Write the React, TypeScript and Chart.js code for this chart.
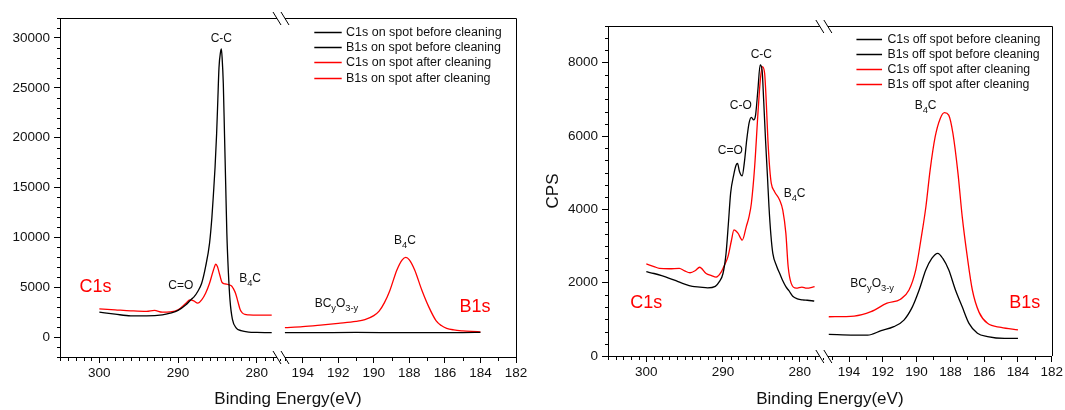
import React, { useEffect, useRef } from "react";
import { Chart, registerables } from "chart.js";

Chart.register(...registerables);

const FONT = "'Liberation Sans', Arial, Helvetica, sans-serif";
const BLACK = "#000000";
const RED = "#ff0000";

// ---------------- axis ticks ----------------
const C1S_TICKS = [300, 290, 280];
const B1S_TICKS = [194, 192, 190, 188, 186, 184, 182];
const ON_Y_TICKS = [0, 5000, 10000, 15000, 20000, 25000, 30000];
const OFF_Y_TICKS = [0, 2000, 4000, 6000, 8000];

// ---------------- left panel: on spot ----------------
const ON_LABELS = [
  "C1s on spot before cleaning",
  "B1s on spot before cleaning",
  "C1s on spot after cleaning",
  "B1s on spot after cleaning",
];
const ON_C1S_BEFORE_EV = [300, 298, 296, 294, 292, 291, 290, 289, 288.3, 288, 287.5, 287, 286.5, 286, 285.7, 285.5, 285.3, 285.1, 284.95, 284.8, 284.6, 284.5, 284.4, 284.25, 284.1, 283.95, 283.8, 283.6, 283.4, 283.1, 282.6, 282, 281, 280, 279, 278.1];
const ON_C1S_BEFORE_CPS = [2500, 2300, 2130, 2130, 2230, 2400, 2670, 3230, 3800, 4000, 4570, 5400, 7070, 9400, 12000, 14400, 17000, 20400, 23700, 27000, 28600, 28900, 28000, 25400, 20400, 15400, 10400, 6400, 3700, 1800, 900, 650, 500, 470, 450, 440];
const ON_B1S_BEFORE_EV = [195, 193, 191, 189, 187, 185, 184];
const ON_B1S_BEFORE_CPS = [440, 450, 460, 450, 440, 450, 470];
const ON_C1S_AFTER_EV = [300, 298, 296, 294, 293, 292, 291, 290, 289, 288.5, 288, 287.5, 287, 286.5, 286, 285.5, 285.2, 285, 284.7, 284.4, 284, 283.5, 283.2, 283, 282.7, 282.4, 282.1, 281.8, 281.5, 281, 280, 279, 278.1];
const ON_C1S_AFTER_CPS = [2830, 2730, 2630, 2570, 2670, 2500, 2530, 2730, 3400, 3730, 3630, 3400, 3730, 4400, 5400, 6730, 7300, 7070, 6230, 5470, 5330, 5230, 5130, 4900, 4400, 3570, 2730, 2400, 2270, 2230, 2200, 2200, 2200];
const ON_B1S_AFTER_EV = [195, 194, 193, 192, 191, 190.5, 190, 189.7, 189.4, 189.1, 188.7, 188.4, 188.2, 188.0, 187.7, 187.3, 186.9, 186.5, 186.2, 185.9, 185.5, 185, 184.5, 184];
const ON_B1S_AFTER_CPS = [940, 1040, 1200, 1380, 1580, 1750, 2150, 2600, 3450, 4650, 6730, 7750, 8000, 7750, 6730, 4720, 3000, 1650, 1150, 880, 720, 620, 560, 520];

// ---------------- right panel: off spot ----------------
const OFF_LABELS = [
  "C1s off spot before cleaning",
  "B1s off spot before cleaning",
  "C1s off spot after cleaning",
  "B1s off spot after cleaning",
];
const OFF_C1S_BEFORE_EV = [300, 299, 298, 297, 296, 295, 294, 293, 292, 291, 290.5, 290, 289.6, 289.3, 289, 288.6, 288.3, 288.1, 287.85, 287.5, 287.2, 286.9, 286.6, 286.3, 286.0, 285.75, 285.45, 285.15, 284.9, 284.7, 284.45, 284.2, 284.0, 283.75, 283.5, 283, 282.6, 282.2, 281.8, 281.4, 280.9, 280.3, 279.6, 279, 278.1];
const OFF_C1S_BEFORE_CPS = [2300, 2250, 2190, 2120, 2040, 1960, 1900, 1880, 1860, 1900, 2020, 2250, 2800, 3600, 4450, 4940, 5200, 5250, 5030, 4910, 5300, 5900, 6350, 6510, 6440, 6570, 7250, 7940, 7800, 7000, 5890, 4900, 4070, 3300, 2800, 2450, 2250, 2050, 1890, 1780, 1630, 1560, 1530, 1520, 1500];
const OFF_B1S_BEFORE_EV = [195.2, 193.7, 192.9, 192.1, 191.35, 190.75, 190.25, 189.85, 189.45, 189.1, 188.75, 188.45, 188.1, 187.7, 187.3, 186.9, 186.4, 185.8, 184.8, 184];
const OFF_B1S_BEFORE_CPS = [590, 570, 570, 690, 800, 980, 1340, 1800, 2350, 2660, 2800, 2660, 2350, 1800, 1340, 890, 620, 530, 480, 480];
const OFF_C1S_AFTER_EV = [300, 299, 298.3, 297, 295.7, 295, 294.3, 293.6, 293.05, 292.2, 291.5, 290.9, 290.2, 289.8, 289.35, 288.9, 288.57, 288.05, 287.48, 286.96, 286.6, 286.3, 285.87, 285.44, 285.13, 284.87, 284.57, 284.35, 284.14, 283.9, 283.7, 283.27, 282.6, 282.2, 281.8, 281.5, 281.1, 280.44, 279.7, 279.1, 278.05];
const OFF_C1S_AFTER_CPS = [2510, 2440, 2390, 2380, 2390, 2320, 2270, 2330, 2420, 2250, 2190, 2150, 2300, 2480, 2710, 3150, 3440, 3350, 3160, 3530, 3800, 4160, 5160, 6620, 7530, 7890, 7710, 6900, 5890, 5100, 4710, 4480, 4250, 3980, 3350, 2440, 1980, 1850, 1880, 1850, 1890];
const OFF_B1S_AFTER_EV = [195.2, 193.7, 192.7, 191.75, 190.95, 190.45, 190.05, 189.75, 189.45, 189.2, 188.9, 188.6, 188.35, 188.1, 187.85, 187.55, 187.3, 187.0, 186.7, 186.3, 185.8, 185.0, 184];
const OFF_B1S_AFTER_CPS = [1070, 1090, 1210, 1440, 1550, 1800, 2350, 3160, 4070, 5070, 5980, 6480, 6640, 6570, 6070, 4980, 3800, 2710, 1800, 1190, 890, 780, 710];

// ---------------- peak annotations (data coordinates) ----------------
type Part = [string, boolean];
type Note = { scale: "xC" | "xB"; ev: number; cps: number; parts: Part[]; kind: "peak" | "region" };

const ON_NOTES: Note[] = [
  { scale: "xC", ev: 284.5, cps: 29900, parts: [["C-C", false]], kind: "peak" },
  { scale: "xC", ev: 289.65, cps: 5150, parts: [["C=O", false]], kind: "peak" },
  { scale: "xC", ev: 280.85, cps: 5890, parts: [["B", false], ["4", true], ["C", false]], kind: "peak" },
  { scale: "xC", ev: 300.5, cps: 4990, parts: [["C1s", false]], kind: "region" },
  { scale: "xB", ev: 188.25, cps: 9700, parts: [["B", false], ["4", true], ["C", false]], kind: "peak" },
  { scale: "xB", ev: 192.1, cps: 3380, parts: [["BC", false], ["y", true], ["O", false], ["3-y", true]], kind: "peak" },
  { scale: "xB", ev: 184.3, cps: 3050, parts: [["B1s", false]], kind: "region" },
];
const OFF_NOTES: Note[] = [
  { scale: "xC", ev: 285.0, cps: 8210, parts: [["C-C", false]], kind: "peak" },
  { scale: "xC", ev: 287.67, cps: 6830, parts: [["C-O", false]], kind: "peak" },
  { scale: "xC", ev: 289.04, cps: 5590, parts: [["C=O", false]], kind: "peak" },
  { scale: "xC", ev: 280.66, cps: 4420, parts: [["B", false], ["4", true], ["C", false]], kind: "peak" },
  { scale: "xC", ev: 300.0, cps: 1440, parts: [["C1s", false]], kind: "region" },
  { scale: "xB", ev: 189.47, cps: 6840, parts: [["B", false], ["4", true], ["C", false]], kind: "peak" },
  { scale: "xB", ev: 192.63, cps: 1980, parts: [["BC", false], ["y", true], ["O", false], ["3-y", true]], kind: "peak" },
  { scale: "xB", ev: 183.6, cps: 1440, parts: [["B1s", false]], kind: "region" },
];

type Series = { label: string; ev: number[]; cps: number[]; axis: "xC" | "xB"; color: string };

interface PanelCfg {
  pageLeft: number;
  width: number;
  yAxisWidth: number;
  xAxisHeight: number;
  padTop: number;
  padRight: number;
  yMin: number;
  yMax: number;
  yTicks: number[];
  yMinorStep: number;
  yTitle: string | null;
  cMin: number;
  cMax: number;
  bMin: number;
  bMax: number;
  cWeight: number;
  bWeight: number;
  series: Series[];
  notes: Note[];
  legend: { x1: number; x2: number; tx: number; top: number; dy: number; size: number };
}

const ON_PANEL: PanelCfg = {
  pageLeft: 0,
  width: 540,
  yAxisWidth: 60,
  xAxisHeight: 53,
  padTop: 18,
  padRight: 24,
  yMin: -2000,
  yMax: 32000,
  yTicks: ON_Y_TICKS,
  yMinorStep: 1000,
  yTitle: null,
  cMin: 276.92,
  cMax: 305,
  bMin: 182,
  bMax: 195.22,
  cWeight: 221,
  bWeight: 235,
  series: [
    { label: ON_LABELS[0], ev: ON_C1S_BEFORE_EV, cps: ON_C1S_BEFORE_CPS, axis: "xC", color: BLACK },
    { label: ON_LABELS[1], ev: ON_B1S_BEFORE_EV, cps: ON_B1S_BEFORE_CPS, axis: "xB", color: BLACK },
    { label: ON_LABELS[2], ev: ON_C1S_AFTER_EV, cps: ON_C1S_AFTER_CPS, axis: "xC", color: RED },
    { label: ON_LABELS[3], ev: ON_B1S_AFTER_EV, cps: ON_B1S_AFTER_CPS, axis: "xB", color: RED },
  ],
  notes: ON_NOTES,
  legend: { x1: 201.7, x2: 174.3, tx: 170, top: 13.7, dy: 15.3, size: 12.5 },
};

const OFF_PANEL: PanelCfg = {
  pageLeft: 540,
  width: 525,
  yAxisWidth: 68,
  xAxisHeight: 54,
  padTop: 26,
  padRight: 13,
  yMin: 0,
  yMax: 9000,
  yTicks: OFF_Y_TICKS,
  yMinorStep: 2000 / 6,
  yTitle: "CPS",
  cMin: 276.84,
  cMax: 305,
  bMin: 182,
  bMax: 195.49,
  cWeight: 216,
  bWeight: 228,
  series: [
    { label: OFF_LABELS[0], ev: OFF_C1S_BEFORE_EV, cps: OFF_C1S_BEFORE_CPS, axis: "xC", color: BLACK },
    { label: OFF_LABELS[1], ev: OFF_B1S_BEFORE_EV, cps: OFF_B1S_BEFORE_CPS, axis: "xB", color: BLACK },
    { label: OFF_LABELS[2], ev: OFF_C1S_AFTER_EV, cps: OFF_C1S_AFTER_CPS, axis: "xC", color: RED },
    { label: OFF_LABELS[3], ev: OFF_B1S_AFTER_EV, cps: OFF_B1S_AFTER_CPS, axis: "xB", color: RED },
  ],
  notes: OFF_NOTES,
  legend: { x1: 195.3, x2: 169.7, tx: 164.3, top: 13, dy: 15.1, size: 12.3 },
};

function drawRich(ctx: CanvasRenderingContext2D, parts: Part[], cx: number, cy: number, size: number, color: string) {
  const sub = size * 0.78;
  const widths = parts.map(([t, s]) => {
    ctx.font = `${s ? sub : size}px ${FONT}`;
    return ctx.measureText(t).width;
  });
  const total = widths.reduce((a, b) => a + b, 0);
  let x = cx - total / 2;
  ctx.fillStyle = color;
  ctx.textAlign = "left";
  ctx.textBaseline = "middle";
  parts.forEach(([t, s], i) => {
    ctx.font = `${s ? sub : size}px ${FONT}`;
    ctx.fillText(t, x, cy + (s ? size * 0.4 : 0));
    x += widths[i];
  });
}

function decorPlugin(cfg: PanelCfg) {
  return {
    id: "decor",
    afterDraw(chart: any) {
      const { ctx, chartArea: a, scales } = chart;
      const xC = scales.xC;
      const xB = scales.xB;
      const y = scales.y;
      ctx.save();
      ctx.strokeStyle = BLACK;
      ctx.lineWidth = 1;
      const top = Math.round(a.top) + 0.5;
      const bottom = Math.round(a.bottom) + 0.5;
      const right = Math.round(a.right) + 0.5;
      const left = Math.round(a.left) + 0.5;
      // frame
      ctx.beginPath();
      ctx.moveTo(a.left, top);
      ctx.lineTo(right, top);
      ctx.lineTo(right, a.bottom);
      ctx.stroke();
      // minor ticks
      ctx.beginPath();
      for (let v = cfg.yMin; v <= cfg.yMax + 1e-6; v += cfg.yMinorStep) {
        const r = Math.round(v);
        if (cfg.yTicks.includes(r)) continue;
        const py = Math.round(y.getPixelForValue(v)) + 0.5;
        ctx.moveTo(left - 3.5, py);
        ctx.lineTo(left, py);
      }
      for (let e = Math.ceil(cfg.cMin); e <= cfg.cMax; e += 1) {
        if (C1S_TICKS.includes(e)) continue;
        const px = Math.round(xC.getPixelForValue(e)) + 0.5;
        ctx.moveTo(px, bottom);
        ctx.lineTo(px, bottom + 3.5);
      }
      for (let e = Math.ceil(cfg.bMin); e <= cfg.bMax; e += 1) {
        if (B1S_TICKS.includes(e)) continue;
        const px = Math.round(xB.getPixelForValue(e)) + 0.5;
        ctx.moveTo(px, bottom);
        ctx.lineTo(px, bottom + 3.5);
      }
      ctx.stroke();
      // axis breaks
      const s = xC.right;
      for (const yy of [top, bottom]) {
        ctx.fillStyle = "#ffffff";
        ctx.fillRect(s - 4, yy - 1.5, 8, 3);
        ctx.beginPath();
        ctx.moveTo(s - 8, yy - 6.5);
        ctx.lineTo(s, yy + 6.5);
        ctx.moveTo(s, yy - 6.5);
        ctx.lineTo(s + 8, yy + 6.5);
        ctx.stroke();
      }
      // legend
      const L = cfg.legend;
      chart.data.datasets.forEach((ds: any, i: number) => {
        const ly = Math.round(a.top + L.top + i * L.dy) + 0.5;
        ctx.strokeStyle = ds.borderColor;
        ctx.lineWidth = 1.5;
        ctx.beginPath();
        ctx.moveTo(a.right - L.x1, ly);
        ctx.lineTo(a.right - L.x2, ly);
        ctx.stroke();
        ctx.fillStyle = "#111111";
        ctx.font = `${L.size}px ${FONT}`;
        ctx.textAlign = "left";
        ctx.textBaseline = "middle";
        ctx.fillText(ds.label, a.right - L.tx, ly);
      });
      // annotations
      cfg.notes.forEach((n) => {
        const sc = scales[n.scale];
        const px = sc.getPixelForValue(n.ev);
        const py = y.getPixelForValue(n.cps);
        if (n.kind === "region") drawRich(ctx, n.parts, px, py, 18, RED);
        else drawRich(ctx, n.parts, px, py, 12, "#111111");
      });
      // x title
      ctx.fillStyle = "#111111";
      ctx.font = `17px ${FONT}`;
      ctx.textAlign = "center";
      ctx.textBaseline = "middle";
      ctx.fillText("Binding Energy(eV)", (a.left + a.right) / 2, 399);
      ctx.restore();
    },
  };
}

function buildConfig(cfg: PanelCfg): any {
  const tickFont = { family: FONT, size: 13.5 };
  const grid = { drawOnChartArea: false, drawTicks: true, tickLength: 6, color: BLACK, lineWidth: 1 };
  const border = { display: true, color: BLACK, width: 1 };
  const xAxis = (min: number, max: number, ticks: number[], weight: number) => ({
    type: "linear",
    axis: "x",
    position: "bottom",
    stack: "bx",
    stackWeight: weight,
    min,
    max,
    reverse: true,
    afterBuildTicks: (sc: any) => {
      sc.ticks = ticks.map((v) => ({ value: v }));
    },
    afterFit: (sc: any) => {
      sc.height = cfg.xAxisHeight;
    },
    ticks: { color: "#111111", font: tickFont, padding: 2, maxRotation: 0, autoSkip: false, callback: (v: any) => String(v) },
    grid,
    border,
  });
  return {
    type: "line",
    data: {
      datasets: cfg.series.map((s) => ({
        label: s.label,
        data: s.ev.map((x, i) => ({ x, y: s.cps[i] })),
        xAxisID: s.axis,
        yAxisID: "y",
        borderColor: s.color,
        backgroundColor: s.color,
        borderWidth: 1.3,
        pointRadius: 0,
        fill: false,
        cubicInterpolationMode: "monotone",
      })),
    },
    options: {
      responsive: false,
      maintainAspectRatio: false,
      animation: false,
      devicePixelRatio: 1,
      events: [],
      layout: { padding: { left: 0, right: cfg.padRight, top: cfg.padTop, bottom: 0 } },
      plugins: { legend: { display: false }, tooltip: { enabled: false }, title: { display: false } },
      scales: {
        xC: xAxis(cfg.cMin, cfg.cMax, C1S_TICKS, cfg.cWeight),
        xB: xAxis(cfg.bMin, cfg.bMax, B1S_TICKS, cfg.bWeight),
        y: {
          type: "linear",
          axis: "y",
          position: "left",
          min: cfg.yMin,
          max: cfg.yMax,
          afterBuildTicks: (sc: any) => {
            sc.ticks = cfg.yTicks.map((v) => ({ value: v }));
          },
          afterFit: (sc: any) => {
            sc.width = cfg.yAxisWidth;
          },
          ticks: { color: "#111111", font: tickFont, padding: 4, callback: (v: any) => String(v) },
          grid,
          border,
          title: cfg.yTitle
            ? { display: true, text: cfg.yTitle, color: "#111111", font: { family: FONT, size: 17 }, padding: { top: 3, bottom: 0 } }
            : { display: false },
        },
      },
    },
    plugins: [decorPlugin(cfg)],
  };
}

function Panel({ cfg }: { cfg: PanelCfg }) {
  const ref = useRef<HTMLCanvasElement>(null);
  useEffect(() => {
    const chart = new Chart(ref.current as HTMLCanvasElement, buildConfig(cfg));
    return () => chart.destroy();
  }, [cfg]);
  return (
    <div style={{ position: "absolute", left: cfg.pageLeft, top: 0, width: cfg.width, height: 410 }}>
      <canvas ref={ref} width={cfg.width} height={410} style={{ display: "block", width: cfg.width, height: 410 }} />
    </div>
  );
}

export default function App() {
  return (
    <div style={{ position: "fixed", left: 0, top: 0, width: 1065, height: 410, background: "#ffffff" }}>
      <Panel cfg={ON_PANEL} />
      <Panel cfg={OFF_PANEL} />
    </div>
  );
}
